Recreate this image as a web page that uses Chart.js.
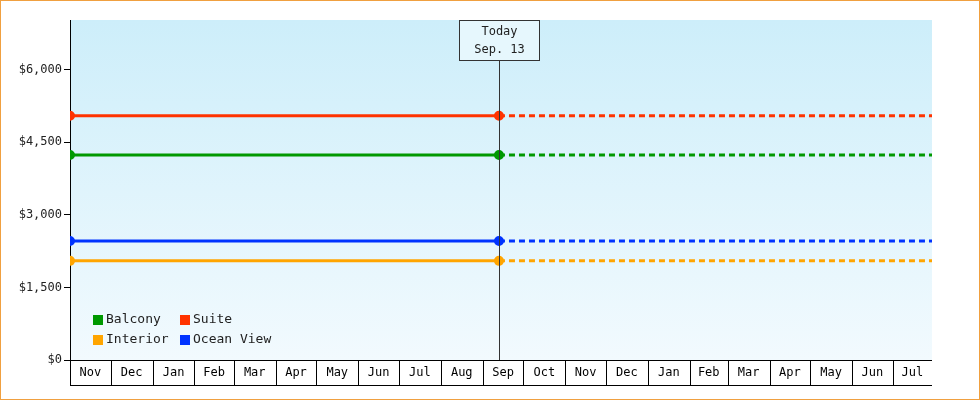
<!DOCTYPE html>
<html><head><meta charset="utf-8">
<script src="https://cdn.jsdelivr.net/npm/chart.js@4"></script>
<style>html,body{margin:0;padding:0;background:#fff}#w{width:980px;height:400px}</style>
</head><body><div id="w"><canvas id="c"></canvas></div>
<script>
const seriesNames = ["Balcony","Suite","Interior","Ocean View"];
const seriesColors = ["#009900","#ff3300","#ffa500","#0033ff"];
const seriesValues = [4240, 5050, 2050, 2460];
const yTicks = [0,1500,3000,4500,6000];
const monthLabels = ["Nov","Dec","Jan","Feb","Mar","Apr","May","Jun","Jul","Aug","Sep","Oct","Nov","Dec","Jan","Feb","Mar","Apr","May","Jun","Jul"];
const startDate = Date.UTC(2023,10,1), todayDate = Date.UTC(2024,8,13), endDate = Date.UTC(2025,6,30);
const DAY = 86400000;
const dayOf = t => (t - startDate)/DAY;
const todayX = dayOf(todayDate), endX = dayOf(endDate);
const monthBounds = [];
for (let i=0;i<=monthLabels.length;i++) monthBounds.push(dayOf(Date.UTC(2023,10+i,1)));
const FONT = "12px 'DejaVu Sans Mono', monospace";

const datasets = [];
seriesNames.forEach((n,i)=>{
  datasets.push({label:n,data:[{x:0,y:seriesValues[i]},{x:todayX,y:seriesValues[i]}],borderColor:seriesColors[i],backgroundColor:seriesColors[i],borderWidth:3,pointRadius:3.5,pointHoverRadius:3.5});
  datasets.push({label:n+" f",data:[{x:todayX,y:seriesValues[i]},{x:endX,y:seriesValues[i]}],borderColor:seriesColors[i],borderWidth:3,borderDash:[6,4],pointRadius:0});
});

const deco = {
  id:'deco',
  beforeDraw(ch){
    const {ctx,chartArea:a}=ch;
    const g=ctx.createLinearGradient(0,a.top,0,a.bottom);
    g.addColorStop(0,'#cdeefa');g.addColorStop(1,'#f2fafe');
    ctx.fillStyle=g;ctx.fillRect(a.left,a.top,a.right-a.left,a.bottom-a.top);
  },
  afterDatasetsDraw(ch){
    const {ctx,chartArea:a,scales:{x}}=ch;
    ctx.save();
    const tx=Math.round(x.getPixelForValue(todayX))+0.5;
    ctx.strokeStyle='#333';ctx.lineWidth=1;
    ctx.beginPath();ctx.moveTo(tx,60);ctx.lineTo(tx,a.bottom);ctx.stroke();
    ctx.fillStyle='#e6f7fd';ctx.fillRect(tx-40,20.5,80,40);
    ctx.strokeRect(tx-40,20.5,80,40);
    ctx.fillStyle='#222';ctx.font=FONT;ctx.textAlign='center';ctx.textBaseline='middle';
    ctx.fillText('Today',tx,32);ctx.fillText('Sep. 13',tx,50);
    ctx.strokeStyle='#000';
    ctx.beginPath();ctx.moveTo(a.left,a.bottom+0.5);ctx.lineTo(a.right,a.bottom+0.5);
    ctx.moveTo(a.left,385.5);ctx.lineTo(a.right,385.5);ctx.stroke();
    for(let i=0;i<monthLabels.length;i++){
      const x0=x.getPixelForValue(monthBounds[i]);
      let x1=Math.min(x.getPixelForValue(monthBounds[i+1]),a.right);
      const px=Math.round(x0)+0.5;
      ctx.beginPath();ctx.moveTo(px,a.bottom);ctx.lineTo(px,385);ctx.stroke();
      ctx.fillStyle='#000';ctx.fillText(monthLabels[i],(x0+x1)/2,373);
    }
    const items=[[0,95,320],[1,182,320],[2,95,340],[3,182,340]];
    ctx.font="13px 'DejaVu Sans Mono', monospace";
    items.forEach(([i,lx,ly])=>{
      ctx.fillStyle=seriesColors[i];ctx.fillRect(lx-2,ly-5,10,10);
      ctx.fillStyle='#222';ctx.textAlign='left';ctx.fillText(seriesNames[i],lx+11,ly);
    });
    ctx.restore();
  },
  afterDraw(ch){
    const ctx=ch.ctx;ctx.save();ctx.strokeStyle='#f0a040';ctx.lineWidth=1;
    ctx.strokeRect(0.5,0.5,979,399);ctx.restore();
  }
};

new Chart(document.getElementById('c'),{
  type:'line',
  data:{datasets},
  options:{
    responsive:true,maintainAspectRatio:false,animation:false,
    layout:{padding:{top:20,right:48,bottom:40,left:0}},
    plugins:{legend:{display:false},tooltip:{enabled:false}},
    scales:{
      x:{type:'linear',min:0,max:endX,display:false},
      y:{min:0,max:7030,
        afterFit(s){s.width=70;},
        afterBuildTicks(s){s.ticks=yTicks.map(v=>({value:v}));},
        border:{display:true,color:'#000',width:1},
        grid:{drawOnChartArea:false,drawTicks:true,tickLength:6,color:'#000'},
        ticks:{color:'#222',font:{family:"'DejaVu Sans Mono', monospace",size:12},padding:2,
          callback:v=>'$'+v.toLocaleString('en-US')}
      }
    }
  },
  plugins:[deco]
});
</script></body></html>
